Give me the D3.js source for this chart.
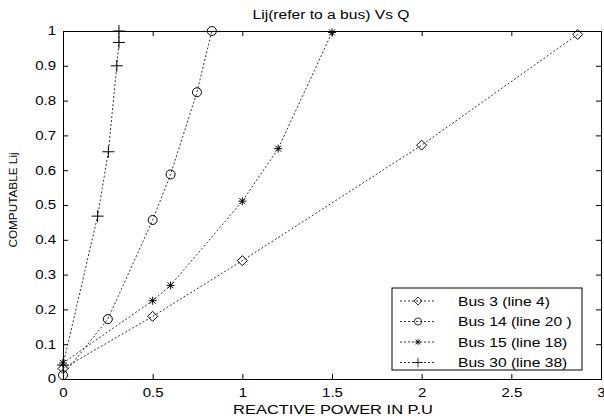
<!DOCTYPE html>
<html>
<head>
<meta charset="utf-8">
<script src="https://cdn.jsdelivr.net/npm/d3@7"></script>
<style>
  body { margin: 0; background: #fff; }
  svg { font-family: "Liberation Sans", Arial, sans-serif; }
  .tick text { font-size: 12px; fill: #000; }
</style>
</head>
<body>
<svg width="604" height="420"></svg>
<script>
// chart data
const seriesNames = ["Bus 3 (line 4)", "Bus 14 (line 20 )", "Bus 15 (line 18)", "Bus 30 (line 38)"];
const bus3 = [[0, 0.03], [0.5, 0.18], [1, 0.34], [2.0, 0.672], [2.87, 0.99]];
const bus14 = [[0, 0.011], [0.25, 0.172], [0.5, 0.457], [0.6, 0.588], [0.747, 0.824], [0.83, 1.0]];
const bus15 = [[0, 0.046], [0.5, 0.225], [0.6, 0.269], [1, 0.511], [1.2, 0.662], [1.5, 0.996]];
const bus30 = [[0, 0.04], [0.193, 0.468], [0.253, 0.653], [0.3, 0.90], [0.312, 0.967], [0.312, 1.0]];
const markers = ["diamond", "circle", "star", "plus"];
const xTicks = [0, 0.5, 1, 1.5, 2, 2.5, 3];
const yTicks = [0, 0.1, 0.2, 0.3, 0.4, 0.5, 0.6, 0.7, 0.8, 0.9, 1];

const allSeries = [bus3, bus14, bus15, bus30];

const margin = {top: 31, right: 3, bottom: 41, left: 63};
const width = 604 - margin.left - margin.right;
const height = 420 - margin.top - margin.bottom;

const svg = d3.select("svg");
const g = svg.append("g")
    .attr("transform", `translate(${margin.left},${margin.top})`);

const x = d3.scaleLinear().domain([0, 3]).range([0, width]);
const y = d3.scaleLinear().domain([0, 1]).range([height, 0]);

// widen text like the original's stretched font
function stretch(sel, k) {
    sel.each(function() {
        const len = this.getComputedTextLength();
        d3.select(this)
            .attr("textLength", len * k)
            .attr("lengthAdjust", "spacingAndGlyphs");
    });
}

// axes with inward ticks on all sides (box)
const fmt = d => d3.format("~g")(d);
g.append("g").attr("class", "axis xb")
    .attr("transform", `translate(0,${height})`)
    .call(d3.axisBottom(x).tickValues(xTicks).tickSize(-5).tickPadding(9).tickFormat(fmt));
g.append("g").attr("class", "axis yl")
    .call(d3.axisLeft(y).tickValues(yTicks).tickSize(-5).tickPadding(7).tickFormat(fmt));
g.append("g").attr("class", "axis")
    .call(d3.axisTop(x).tickValues(xTicks).tickSize(-5).tickFormat(""));
g.append("g").attr("class", "axis")
    .attr("transform", `translate(${width},0)`)
    .call(d3.axisRight(y).tickValues(yTicks).tickSize(-5).tickFormat(""));
g.selectAll(".axis .domain").attr("stroke", "#000");
g.selectAll(".axis .tick line").attr("stroke", "#000");
stretch(g.selectAll(".xb .tick text, .yl .tick text"), 1.25);

// marker drawing
function drawMarker(sel, type) {
    sel.attr("fill", "none").attr("stroke", "#000").attr("stroke-width", 1);
    if (type === "diamond") {
        sel.append("path").attr("d", "M0,-5L5,0L0,5L-5,0Z");
    } else if (type === "circle") {
        sel.append("circle").attr("r", 4.5);
    } else if (type === "star") {
        sel.append("path").attr("d", "M-4,0H4M0,-4V4M-3,-3L3,3M-3,3L3,-3");
    } else {
        sel.append("path").attr("d", "M-6,0H6M0,-6V6");
    }
}

const line = d3.line().x(d => x(d[0])).y(d => y(d[1]));

allSeries.forEach((data, i) => {
    g.append("path")
        .datum(data)
        .attr("d", line)
        .attr("fill", "none")
        .attr("stroke", "#333")
        .attr("stroke-width", 1)
        .attr("stroke-dasharray", "2,2");
    g.selectAll(".m" + i)
        .data(data)
        .enter()
        .append("g")
        .attr("class", "m" + i)
        .attr("transform", d => `translate(${x(d[0])},${y(d[1])})`)
        .each(function() { drawMarker(d3.select(this), markers[i]); });
});

// title and axis labels
svg.append("text")
    .attr("x", 331)
    .attr("y", 19)
    .attr("text-anchor", "middle")
    .attr("font-size", 12)
    .text("Lij(refer to a bus) Vs Q")
    .call(stretch, 1.3);
svg.append("text")
    .attr("x", 333)
    .attr("y", 414)
    .attr("text-anchor", "middle")
    .attr("font-size", 12)
    .text("REACTIVE POWER IN P.U")
    .call(stretch, 1.37);
svg.append("text")
    .attr("transform", "translate(17,200) rotate(-90)")
    .attr("text-anchor", "middle")
    .attr("font-size", 11)
    .text("COMPUTABLE Lij")
    .call(stretch, 1.07);

// legend
const lg = svg.append("g").attr("transform", "translate(392,288)");
lg.append("rect")
    .attr("width", 190).attr("height", 82)
    .attr("fill", "#fff").attr("stroke", "#000");
seriesNames.forEach((name, i) => {
    const row = lg.append("g").attr("transform", `translate(0,${13 + i * 20.5})`);
    row.append("line")
        .attr("x1", 8).attr("x2", 44)
        .attr("stroke", "#333").attr("stroke-dasharray", "2,2");
    const mk = row.append("g").attr("transform", "translate(26,0)");
    drawMarker(mk, markers[i]);
    mk.selectAll("*").attr("transform", "scale(0.8)");
    row.append("text")
        .attr("x", 66).attr("y", 4.5)
        .attr("font-size", 12)
        .text(name)
        .call(stretch, 1.3);
});
</script>
</body>
</html>
